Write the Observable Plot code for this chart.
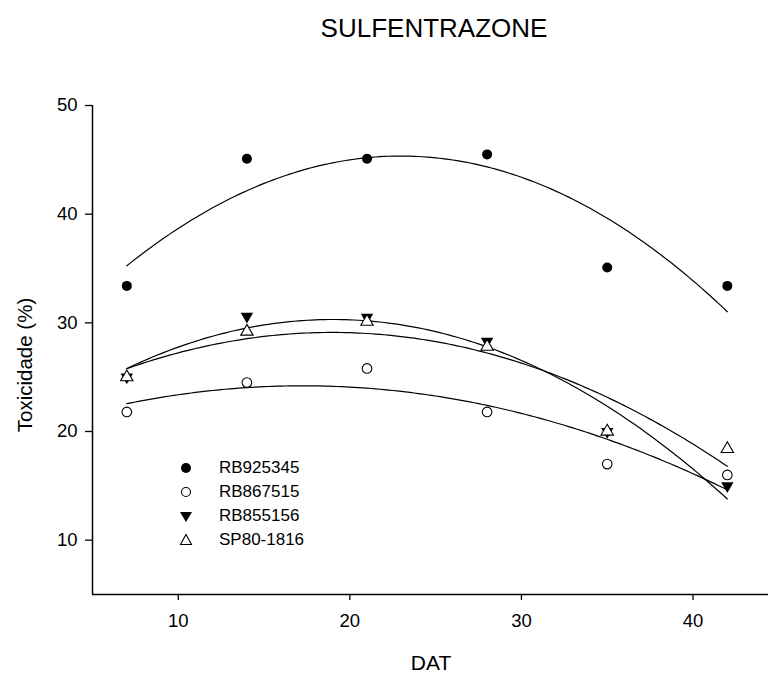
<!DOCTYPE html>
<html><head><meta charset="utf-8">
<script src="https://cdn.jsdelivr.net/npm/d3@7"></script>
<script src="https://cdn.jsdelivr.net/npm/@observablehq/plot@0.6"></script>
<style>
body{margin:0;background:#fff;font-family:"Liberation Sans",Arial,sans-serif;}
#wrap{position:relative;width:768px;height:675px;overflow:hidden;}
.lbl{position:absolute;color:#000;white-space:nowrap;line-height:1;}
#legend{position:absolute;left:176px;top:456px;font-size:17px;}
#legend .row{display:flex;align-items:center;height:24px;}
#legend svg{width:20px;height:20px;margin-right:23px;}
</style></head><body><div id="wrap"></div>
<script>
// ---- data ----
const days = [7, 14, 21, 28, 35, 42];
const seriesNames = ["RB925345", "RB867515", "RB855156", "SP80-1816"];
const rb925345 = [33.4, 45.1, 45.1, 45.5, 35.1, 33.4];
const rb867515 = [21.8, 24.5, 25.8, 21.8, 17.0, 16.0];
const rb855156 = [25.0, 30.6, 30.5, 28.3, 20.0, 15.0];
const sp801816 = [25.0, 29.2, 30.1, 27.8, 20.0, 18.4];
const xTicks = [10, 20, 30, 40];
const yTicks = [10, 20, 30, 40, 50];
const xDomain = [5, 44.4];
const yDomain = [5, 50];
const titleText = "SULFENTRAZONE";
const xLabel = "DAT";
const yLabel = "Toxicidade (%)";

const valuesBySeries = [rb925345, rb867515, rb855156, sp801816];
const points = seriesNames.flatMap((s, i) => days.map((d, j) => ({series: s, dat: d, tox: valuesBySeries[i][j]})));

// quadratic least-squares fit (the curves in the reference are 2nd-order regressions)
function fitQuad(xs, ys) {
  const n = xs.length;
  let s = [0,0,0,0,0], t = [0,0,0];
  for (let i = 0; i < n; i++) {
    const x = xs[i], y = ys[i];
    for (let k = 0; k < 5; k++) s[k] += Math.pow(x, k);
    for (let k = 0; k < 3; k++) t[k] += Math.pow(x, k) * y;
  }
  const A = [[s[0],s[1],s[2],t[0]],[s[1],s[2],s[3],t[1]],[s[2],s[3],s[4],t[2]]];
  for (let c = 0; c < 3; c++) {
    for (let r = c + 1; r < 3; r++) {
      const f = A[r][c] / A[c][c];
      for (let k = c; k < 4; k++) A[r][k] -= f * A[c][k];
    }
  }
  const b = [0,0,0];
  for (let r = 2; r >= 0; r--) {
    let v = A[r][3];
    for (let k = r + 1; k < 3; k++) v -= A[r][k] * b[k];
    b[r] = v / A[r][r];
  }
  return x => b[0] + b[1] * x + b[2] * x * x;
}
const xs = d3.range(days[0], days[days.length - 1] + 0.001, 0.25);
const curves = seriesNames.flatMap((s, i) => {
  const f = fitQuad(days, valuesBySeries[i]);
  return xs.map(x => ({series: s, dat: x, tox: f(x)}));
});
const bySeries = s => points.filter(p => p.series === s);

const chart = Plot.plot({
  width: 768,
  height: 675,
  marginLeft: 92,
  marginRight: 0,
  marginTop: 105,
  marginBottom: 81,
  style: {fontFamily: "'Liberation Sans', Arial, sans-serif", fontSize: "18.5px", color: "#000", background: "#fff"},
  x: {domain: xDomain},
  y: {domain: yDomain},
  marks: [
    Plot.axisX({ticks: xTicks, tickSize: 6, tickPadding: 13, label: null, stroke: "#000", strokeWidth: 1.3, strokeOpacity: 1, fontSize: 18.5}),
    Plot.axisY({ticks: yTicks, tickSize: 7, tickPadding: 8, label: null, stroke: "#000", strokeWidth: 1.3, strokeOpacity: 1, fontSize: 18.5}),
    Plot.ruleX([xDomain[0]], {stroke: "#000", strokeWidth: 1.5}),
    Plot.ruleY([yDomain[0]], {stroke: "#000", strokeWidth: 1.5}),
    Plot.line(curves, {x: "dat", y: "tox", z: "series", stroke: "#000", strokeWidth: 1.2, curve: "linear"}),
    Plot.dot(bySeries("RB925345"), {x: "dat", y: "tox", symbol: "circle", r: 5, fill: "#000", stroke: "none"}),
    Plot.dot(bySeries("RB867515"), {x: "dat", y: "tox", symbol: "circle", r: 4.8, fill: "#fff", stroke: "#000", strokeWidth: 1.1}),
    Plot.dot(bySeries("RB855156"), {x: "dat", y: "tox", symbol: "triangle", r: 4.6, rotate: 180, fill: "#000", stroke: "none"}),
    Plot.dot(bySeries("SP80-1816"), {x: "dat", y: "tox", symbol: "triangle", r: 4.6, fill: "#fff", stroke: "#000", strokeWidth: 1.1})
  ]
});

const wrap = document.getElementById("wrap");
wrap.appendChild(chart);

function addLabel(text, css) {
  const d = document.createElement("div");
  d.className = "lbl";
  d.textContent = text;
  Object.assign(d.style, css);
  wrap.appendChild(d);
}
addLabel(titleText, {left: "0px", width: "868px", textAlign: "center", top: "15px", fontSize: "26px"});
addLabel(xLabel, {left: "92px", width: "678px", textAlign: "center", top: "652px", fontSize: "21px"});
addLabel(yLabel, {left: "25px", top: "365px", fontSize: "20.5px", transform: "translate(-50%,-50%) rotate(-90deg)"});

// legend
const legendSymbols = [
  {shape: "circle", fill: "#000"},
  {shape: "circle", fill: "#fff"},
  {shape: "down", fill: "#000"},
  {shape: "up", fill: "#fff"}
];
const lg = document.createElement("div");
lg.id = "legend";
seriesNames.forEach((name, i) => {
  const sym = legendSymbols[i];
  const row = document.createElement("div");
  row.className = "row";
  let shape;
  if (sym.shape === "circle") shape = `<circle cx="10" cy="10" r="${sym.fill === '#000' ? 5 : 4.5}" fill="${sym.fill}" stroke="#000" stroke-width="${sym.fill === '#000' ? 0 : 1.1}"/>`;
  else if (sym.shape === "down") shape = `<path d="M4,6 L16,6 L10,16 Z" fill="#000"/>`;
  else shape = `<path d="M10,4.5 L15.5,14.5 L4.5,14.5 Z" fill="#fff" stroke="#000" stroke-width="1.1"/>`;
  row.innerHTML = `<svg viewBox="0 0 20 20">${shape}</svg><span>${name}</span>`;
  lg.appendChild(row);
});
wrap.appendChild(lg);
</script>
</body></html>
